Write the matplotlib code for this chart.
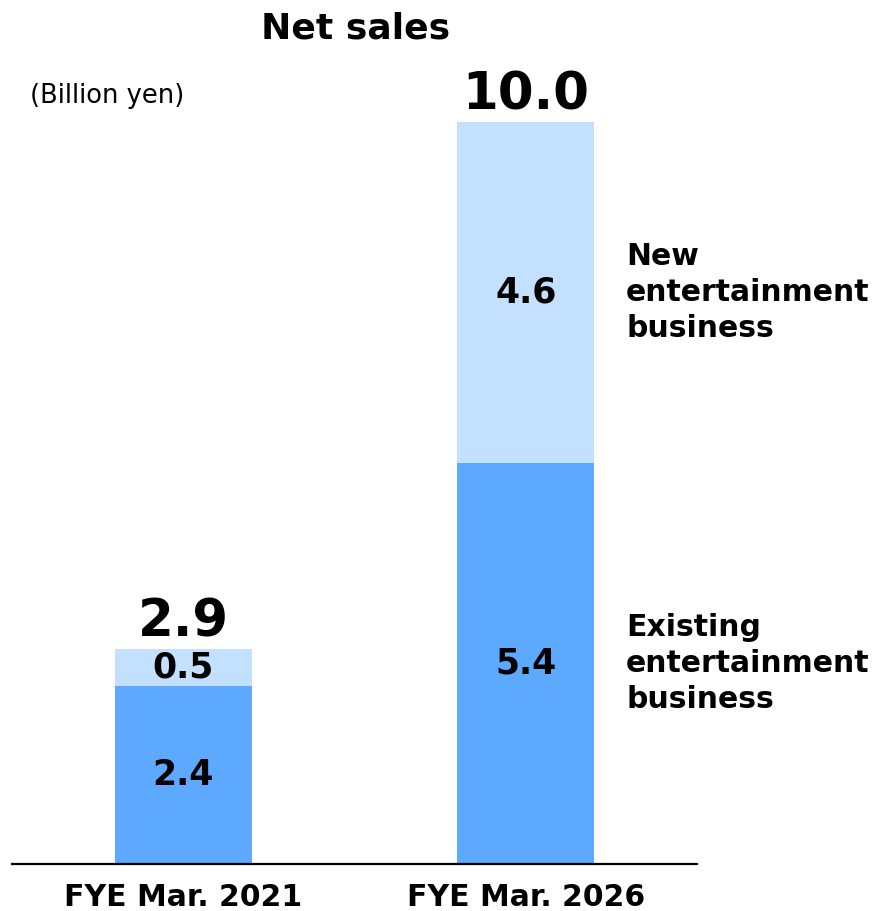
import matplotlib.pyplot as plt

# data (billion yen)
periods = ['FYE Mar. 2021', 'FYE Mar. 2026']
existing = [2.4, 5.4]
new_biz = [0.5, 4.6]
totals = [2.9, 10.0]
series_names = ['Existing\nentertainment\nbusiness', 'New\nentertainment\nbusiness']

dark_blue = '#5CA9FF'
light_blue = '#C3E0FF'

plt.rcParams['font.family'] = ['DejaVu Sans']

fig = plt.figure(figsize=(8.72, 9.11), dpi=100)
ax = fig.add_axes([0.0138, 0.0516, 0.7856, 0.8145])

x = list(range(len(periods)))
bar_w = 0.4
ax.bar(x, existing, width=bar_w, color=dark_blue)
ax.bar(x, new_biz, width=bar_w, bottom=existing, color=light_blue)

for i in x:
    ax.text(i, existing[i] / 2, f'{existing[i]:.1f}', ha='center', va='center',
            fontsize=25, fontweight='bold')
    ax.text(i, existing[i] + new_biz[i] / 2, f'{new_biz[i]:.1f}', ha='center',
            va='center', fontsize=25, fontweight='bold')
    ax.annotate(f'{totals[i]:.1f}', (i, totals[i]), xytext=(0, 9),
                textcoords='offset points', ha='center', va='baseline',
                fontsize=37, fontweight='bold', annotation_clip=False)

# series labels next to the right bar
last = len(periods) - 1
ax.text(last + 0.293, existing[last] / 2, series_names[0], ha='left', va='center',
        fontsize=21.5, fontweight='bold', linespacing=1.3)
ax.text(last + 0.293, existing[last] + new_biz[last] / 2, series_names[1], ha='left',
        va='center', fontsize=21.5, fontweight='bold', linespacing=1.3)

ax.set_xlim(-0.5, 1.5)
ax.set_ylim(0, 10)
ax.set_xticks(x)
ax.set_xticklabels(periods, fontsize=21.5, fontweight='bold')
ax.tick_params(axis='x', length=0, pad=14)
ax.set_yticks([])
for side in ['top', 'right', 'left']:
    ax.spines[side].set_visible(False)
ax.spines['bottom'].set_linewidth(1.6)

fig.text(0.408, 0.969, 'Net sales', ha='center', va='center', fontsize=26, fontweight='bold')
fig.text(0.034, 0.895, '(Billion yen)', ha='left', va='center', fontsize=18.5)

plt.savefig('out.png', dpi=100)
